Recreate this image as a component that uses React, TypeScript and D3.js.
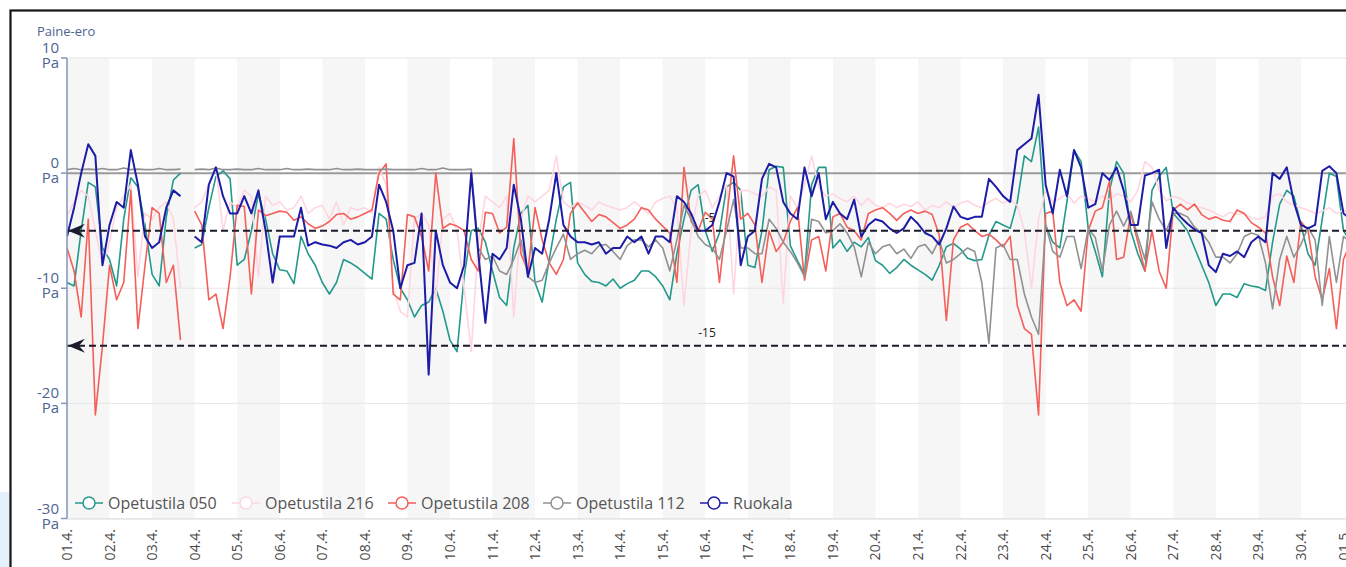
import React from 'react';
import * as d3 from 'd3';

const W = 1346;
const H = 567;

// x tick labels, one per day (01.4. … 01.5.)
const tickLabels = [
  '01.4.', '02.4.', '03.4.', '04.4.', '05.4.', '06.4.', '07.4.', '08.4.', '09.4.', '10.4.',
  '11.4.', '12.4.', '13.4.', '14.4.', '15.4.', '16.4.', '17.4.', '18.4.', '19.4.', '20.4.',
  '21.4.', '22.4.', '23.4.', '24.4.', '25.4.', '26.4.', '27.4.', '28.4.', '29.4.', '30.4.', '01.5.',
];
const yTicks = [10, 0, -10, -20, -30];
const refLines = [-5, -15];

// samples every 4 hours from 01.4. 00:00
const STEP_DAYS = 1 / 6;

const opetustila050 = [
  -9.5, -9.8, -5, -0.8, -1.2, -6.5,
  -7.5, -9.8, -4, -0.4, -1.2, -4.5,
  -8.8, -9.8, -3.8, -0.6, 0, null,
  -6.5, -6.2, -3, -0.3, 0.2, -0.5,
  -8, -7.5, -5, -1.8, -4, -7,
  -8.4, -8.5, -9.6, -5.5, -7, -8,
  -9.5, -10.5, -9.5, -7.5, -7.8, -8.2,
  -8.7, -9.2, -3.5, -4, -7.5, -10,
  -11, -12.5, -11.5, -11.2, -10, -12,
  -14.5, -15.5, -9, -5, -4.8, -6,
  -8.5, -10.8, -11.5, -6.5, -3.5, -2.8,
  -9.5, -11.2, -7.5, -4, -1.2, -0.8,
  -7.8, -8.8, -9.4, -9.5, -9.8, -9.2,
  -10, -9.6, -9.3, -8.5, -8.5, -9,
  -9.8, -11, -7, -4, -1.5, -1,
  -5, -6.8, -5.2, -1.2, -0.8, -1.5,
  -8, -8.2, -5, 0.3, 0.6, 0.5,
  -6.3, -7.6, -8.8, -1, 0.5, 0.5,
  -6.5, -5.8, -6.8, -6, -6.4, -5.6,
  -7.6, -8, -8.7, -8.2, -7.5, -8,
  -8.4, -8.8, -9.3, -8, -6.4, -6.1,
  -6.6, -7.4, -7.6, -7.5, -5.4, -4.2,
  -4.5, -4.8, -2.5, 1.5, 1, 4,
  -4.5, -6, -6.5, -2.5, 2, 1,
  -4.8, -6.8, -9, -1.5, 1, 0,
  -5, -7, -8.5, -1.5, -0.3, 0.5,
  -3.5, -4.2, -5, -6.5, -8, -9.5,
  -11.5, -10.5, -10.5, -10.8, -9.6, -9.8,
  -9.9, -10.2, -6, -2.7, -1.5, -2,
  -4.5, -7, -8, -4, 0, -0.3,
  -5, -6,
];

const opetustila216 = [
  -3.7, -2.5, -1.5, -2, -5, -8,
  -6, -3, -2, -1, -9, -3.5,
  -4, -3, -2.5, -4, -10, null,
  -3, -2.5, -1, 0.5, -5, -2.5,
  -3, -1.5, -2, -9, -2, -2.8,
  -2.5, -3.2, -3, -2, -3.5, -3,
  -2.8, -4, -2.5, -4.5, -3, -3.2,
  -3, -3.5, 0.5, -1, -10, -12,
  -12.5, -4, -3.5, -4.5, -11, -4,
  -3.5, -5, -10, -15.5, -6, -2,
  -2.5, -3, -2, -12.5, -4, -2,
  -2.5, -2, -1.5, 1.5, -2.5, -3,
  -2.5, -2.8, -3.2, -2.5, -2.8, -3,
  -3.2, -3, -2.5, -3, -3.5, -2.5,
  -2.2, -2, -3, -11.5, -5, -2,
  -1.5, -3, -2, -1, -10.5, -1.5,
  -1.5, -1.8, -2, -1.2, -1.5, -11.3,
  -2, -3, -1, 1.5, -1.2, -2,
  -1.8, -2.2, -2.5, -2, -2.8, -2.2,
  -2.8, -3, -2.6, -3, -2.7, -2.9,
  -2.5, -3.2, -2.8, -3, -2.5, -3,
  -2.6, -2.4, -2.8, -3, -2.5, -2.2,
  -2.6, -2.3, -2.8, -5, -10, -4,
  -1.5, -2.5, -2.2, -1.8, -2.6, -2,
  -2.2, -2.5, -2, -2.3, -1.8, -2,
  -2.5, -1.5, 1, 0.5, -1.5, -2.4,
  -2, -2.2, -2.6, -2.8, -3, -3.2,
  -3.5, -3.8, -3.4, -3.6, -3.5, -3.9,
  -4, -3.8, -2, -1.8, -2.5, -2.8,
  -3, -3.2, -3.5, -3.3, -3, -3.5,
  -3.2, -3.5,
];

const opetustila208 = [
  -6.5, -8.5, -12.5, -4, -21, -15,
  -8, -11, -9.5, -1.5, -13.5, -8,
  -3, -3.5, -9.5, -8, -14.5, null,
  -3.3, -4.5, -11, -10.5, -13.5, -9,
  -2.8, -2.9, -10.5, -3.2, -3.7, -3.5,
  -3.3, -3.4, -4.1, -3.8, -4.4, -4.8,
  -4.6, -4.2, -3.6, -3.5, -4, -3.8,
  -3.5, -3.2, 0, 0.8, -10.5, -11,
  -3.6, -3.8, -5.5, -8.5, 0, -4.8,
  -4.4, -4.6, -5, -7.5, -8.5, -3.4,
  -3.5, -5.2, -4.7, 3, -7, -8.5,
  -3, -5.8, -7.8, -8.8, -7.5, -3.5,
  -2.6, -3.4, -4.2, -3.6, -3.8, -4.3,
  -4.8, -4.5, -4, -3, -3.2, -4,
  -4.6, -5.2, -9.5, 0.5, -4.2, -5,
  -3.4, -4, -9.5, -4, 1.5, -4,
  -3.5, -4.5, -9.5, -5, -6.8, -6,
  -4.2, -3, -9.3, -5.8, -5.5, -8.5,
  -3.8, -3.5, -4.7, -5, -5.8, -3.5,
  -3.2, -3, -3.5, -4.1, -3.5, -3.2,
  -3.5, -3.3, -3.6, -5.4, -12.8, -5.8,
  -4.7, -4.4, -5, -5.5, -5.3, -5.8,
  -6.4, -5.5, -11.5, -13.5, -14, -21,
  -3.5, -3.3, -9.5, -11.5, -11, -12,
  -5, -3.3, -3, -0.7, -7.5, -7.3,
  -3.5, -6, -8.5, -5, -8.5, -10,
  -3.2, -2.7, -3.2, -2.7, -3.6, -4,
  -3.8, -4.1, -4.2, -3.2, -3.5, -4.3,
  -4.7, -5.2, -9, -11.5, -7.2, -9.5,
  -4.2, -5, -9, -11, -8.3, -13.5,
  -7.5, -6,
];

const opetustila112 = [
  0.3, 0.4, 0.3, 0.35, 0.3, 0.4,
  0.3, 0.3, 0.45, 0.3, 0.35, 0.3,
  0.3, 0.4, 0.3, 0.3, 0.35, null,
  0.3, 0.35, 0.3, 0.45, 0.3, 0.3,
  0.35, 0.3, 0.3, 0.4, 0.3, 0.3,
  0.3, 0.4, 0.3, 0.3, 0.35, 0.3,
  0.3, 0.3, 0.4, 0.3, 0.3, 0.35,
  0.3, 0.3, 0.3, 0.35, 0.3, 0.3,
  0.3, 0.3, 0.4, 0.3, 0.3, 0.45,
  0.3, 0.3, 0.3, 0.35, -6.5, -7.5,
  -7.2, -8.5, -8.8, -7.5, -5.8, -9,
  -9.5, -9.3, -7.8, -6.5, -5.3, -7.5,
  -7, -6.7, -7, -6.3, -6.2, -6.8,
  -7.5, -6.3, -5.8, -5.8, -6.4, -5.8,
  -6.5, -8.5, -5.8, -2.8, -4, -5.5,
  -6.2, -6.5, -7.5, -5, -2.3, -6.5,
  -6.5, -7, -7, -4, -4.8, -6,
  -6.8, -7.8, -9, -4, -4.2, -5.2,
  -5, -4.4, -5.2, -6.4, -9, -6,
  -7, -6.4, -6.2, -7, -6.6, -7.4,
  -6.4, -6.2, -7, -5.8, -7.8, -7.5,
  -7, -6.5, -6.8, -9.5, -14.8, -6.5,
  -6.2, -7.5, -7.5, -10.5, -12.5, -14,
  -4.5, -6.8, -7.3, -5.5, -5.5, -8.3,
  -4.8, -5.6, -8.5, -4.5, -3.3, -4.6,
  -3.3, -5.5, -7.5, -2.5, -4, -5,
  -3.5, -3.5, -3.8, -4.7, -5.2, -6,
  -7.3, -7.3, -7.8, -7, -5.5, -5.2,
  -5.4, -7.8, -11.8, -7.5, -5.5, -7.3,
  -6.2, -4.7, -5.8, -11.5, -5.5, -9.5,
  -5.5, -6,
];

const ruokala = [
  -5.5, -3, 0, 2.5, 1.5, -8,
  -4.5, -2.5, -3, 2, -1, -5.5,
  -6.5, -6, -3, -1.5, -2, null,
  -5.5, -6, -1, 0.5, -2, -3.5,
  -3.5, -2, -3.5, -1.5, -5, -9.5,
  -5.5, -5.5, -5.5, -3, -6.3, -6,
  -6.2, -6.3, -6.5, -6, -5.8, -6.2,
  -6, -5.5, -1, -2.5, -5, -10,
  -8, -7.8, -3.5, -17.5, -5, -8,
  -9.5, -10, -8, 0, -7, -13,
  -7, -7.5, -6.5, -1, -4, -9,
  -6.5, -7, -4, 0, -4.5, -5.5,
  -6, -6, -6.2, -6, -7, -6.5,
  -6.5, -5.5, -6, -5.5, -7, -5.5,
  -5.5, -6, -2, -2.5, -3.5, -5,
  -5, -4.5, -2.5, 0, -0.3, -8,
  -5.5, -5, -0.5, 0.8, 0.5, -2.5,
  -3.5, -4, 0.5, -2, 0, -4,
  -2.5, -3.5, -4, -2.3, -5.5, -4.5,
  -4, -4.2, -4.8, -5.2, -4.8, -3.8,
  -4.4, -5.2, -5.5, -6.2, -4.8, -2.9,
  -3.8, -4, -3.8, -3.8, -0.5, -1.2,
  -2, -2.5, 2, 2.5, 3, 6.8,
  -1, -3.5, 0.3, -2, 2, 0.5,
  -3, -2.7, 0, -0.6, 0.5, -1.5,
  -4.5, -4.5, -0.2, 0, 0.3, -6.5,
  -3, -3.8, -4.4, -4.9, -5.2, -8,
  -8.6, -7, -7.2, -6.8, -7.3, -6,
  -5.5, -6, 0, -0.5, 0.5, -2.5,
  -4.5, -4.8, -4.5, 0.2, 0.6, 0,
  -3.5, -4,
];

const seriesNames = ['Opetustila 050', 'Opetustila 216', 'Opetustila 208', 'Opetustila 112', 'Ruokala'];
const seriesValues = [opetustila050, opetustila216, opetustila208, opetustila112, ruokala];
const seriesColors = ['#23998b', '#ffd6e0', '#f55f5a', '#919191', '#1d1ca6'];

const FONT = "'Segoe UI', 'Open Sans', sans-serif";

export default function App() {
  const left = 67;
  const top = 58;
  const bottom = 518.5;
  const dayW = 42.55;

  const x = d3.scaleLinear().domain([0, 30]).range([left, left + 30 * dayW]);
  const y = d3.scaleLinear().domain([-30, 10]).range([bottom, top]);

  const line = d3
    .line<number | null>()
    .defined((d) => d !== null)
    .x((_, i) => x(i * STEP_DAYS))
    .y((d) => y(d as number));

  const bandDays = d3.range(0, 30, 2);
  const legendX = [75, 232, 388, 543, 700];
  const legendY = 503;
  const axisColor = '#4e6491';

  return (
    <svg
      width={W}
      height={H}
      style={{ position: 'absolute', left: 0, top: 0, background: '#fff' }}
      fontFamily={FONT}
    >
      <defs>
        <clipPath id="plot-clip">
          <rect x={left} y={0} width={W - left} height={H} />
        </clipPath>
      </defs>

      {/* outside patch + frame */}
      <rect x={0} y={492} width={10} height={H - 492} fill="#e4f0fb" />
      <rect x={10.5} y={10.5} width={1400} height={700} fill="none" stroke="#151515" strokeWidth={2.2} />

      {/* day bands */}
      {bandDays.map((d) => (
        <rect key={d} x={x(d)} y={top} width={x(d + 1) - x(d)} height={bottom - top} fill="#f6f6f6" />
      ))}

      {/* grid */}
      {yTicks.filter((t) => t !== 0).map((t) => (
        <line key={t} x1={left} x2={W} y1={y(t)} y2={y(t)} stroke="#e6e6e6" strokeWidth={1} />
      ))}
      <line x1={left} x2={W} y1={y(0)} y2={y(0)} stroke="#9b9b9b" strokeWidth={2} />

      {/* series */}
      <g clipPath="url(#plot-clip)">
        {seriesValues.map((vals, i) => (
          <path
            key={seriesNames[i]}
            d={line(vals) || ''}
            fill="none"
            stroke={seriesColors[i]}
            strokeWidth={i === 4 ? 2 : 1.6}
            strokeLinejoin="round"
          />
        ))}
      </g>

      {/* reference lines */}
      {refLines.map((v, i) => {
        const yy = y(v);
        return (
          <g key={v}>
            <line x1={left} x2={W} y1={yy} y2={yy} stroke="#1b1b2b" strokeWidth={2} strokeDasharray="7 4" />
            <path
              d={`M ${left + 1} ${yy} L ${left + 18} ${yy - 7} L ${left + 12} ${yy} L ${left + 18} ${yy + 7} Z`}
              fill="#1b1b2b"
            />
            <text x={i === 0 ? 710 : 707} y={yy - 9} fontSize={12} fill="#222" textAnchor="middle">
              {String(v)}
            </text>
          </g>
        );
      })}

      {/* y axis */}
      <line x1={left} x2={left} y1={top} y2={bottom} stroke="#8395ba" strokeWidth={1.5} />
      {yTicks.map((t) => (
        <g key={t} transform={`translate(0,${y(t)})`}>
          <line x1={left - 6} x2={left} y1={0} y2={0} stroke="#8395ba" strokeWidth={1.5} />
          <text fontSize={15} fill={axisColor} textAnchor="end">
            <tspan x={left - 8} y={-5}>{String(t)}</tspan>
            <tspan x={left - 8} y={10}>Pa</tspan>
          </text>
        </g>
      ))}
      <text x={37} y={36} fontSize={13} fill={axisColor}>
        Paine-ero
      </text>

      {/* x axis */}
      <line x1={left} x2={W} y1={bottom + 1} y2={bottom + 1} stroke="#ececec" strokeWidth={1} />
      {tickLabels.map((lab, i) => (
        <text
          key={lab}
          transform={`translate(${x(i) + 5},529) rotate(-90)`}
          fontSize={14}
          fill="#4a4a4a"
          textAnchor="end"
        >
          {lab}
        </text>
      ))}

      {/* legend */}
      {seriesNames.map((name, i) => (
        <g key={name} transform={`translate(${legendX[i]},${legendY})`}>
          <line x1={0} x2={28} y1={0} y2={0} stroke={seriesColors[i]} strokeWidth={1.5} />
          <circle cx={14} cy={0} r={6} fill="#fff" stroke={seriesColors[i]} strokeWidth={1.5} />
          <text x={33} y={5.5} fontSize={16} fill="#555">
            {name}
          </text>
        </g>
      ))}
    </svg>
  );
}
